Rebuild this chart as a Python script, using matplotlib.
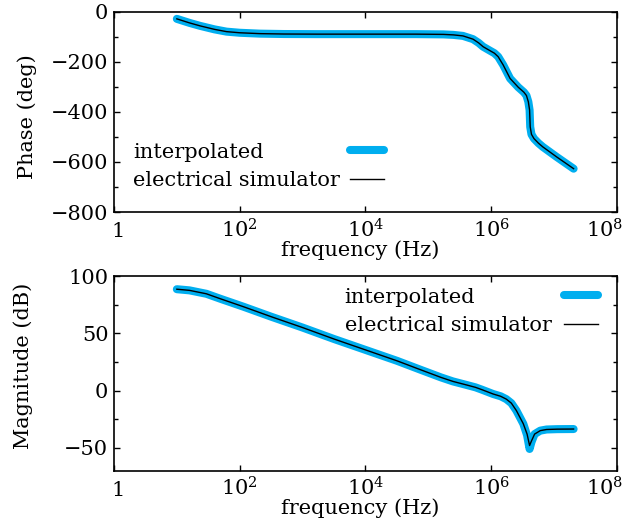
import matplotlib
matplotlib.use("Agg")
import matplotlib.pyplot as plt
import matplotlib.transforms as mtransforms
import numpy as np
from matplotlib.ticker import FixedLocator, FuncFormatter, AutoMinorLocator, NullLocator

# values (frequency as log10 of Hz)
phase_freq_exp = [1.00, 1.10, 1.20, 1.37, 1.60, 1.79, 2.00, 2.32, 2.70, 3.22, 4.00,
                  4.80, 5.24, 5.40, 5.55, 5.71, 5.80, 5.87, 5.98, 6.05, 6.11, 6.19,
                  6.30, 6.43, 6.52, 6.56, 6.59, 6.61, 6.62, 6.64, 6.68, 6.75, 6.82,
                  7.04, 7.31]
phase_interp = [-29, -37, -45, -57, -71, -80, -84.5, -88, -89.5, -90, -90,
                -90, -91, -93, -97, -110, -125, -140, -156, -166, -180, -213,
                -267, -302, -322, -335, -360, -393, -460, -490, -507, -525, -540,
                -580, -627]
phase_sim = list(phase_interp)

mag_freq_exp = [1.00, 1.20, 1.47, 1.70, 2.06, 2.50, 3.00, 3.50, 4.00, 4.50, 4.86,
                5.20, 5.39, 5.60, 5.75, 5.85, 6.03, 6.15, 6.24, 6.32, 6.40, 6.51,
                6.57, 6.61, 6.64, 6.69, 6.78, 6.88, 7.05, 7.31]
mag_sim = [88.5, 87.5, 84.5, 80, 73.2, 64.5, 55, 45, 35.5, 26, 18.5,
           11.5, 8, 5, 2.8, 0.8, -3, -5, -7.5, -11, -17.5, -29,
           -38, -48, -44, -38, -35, -34, -33.7, -33.6]
mag_interp = [88.5, 87.5, 84.5, 80, 73.2, 64.5, 55, 45, 35.5, 26, 18.5,
              11.5, 8, 5, 2.8, 0.8, -3, -5, -7.5, -11, -17.5, -29,
              -39, -51, -45, -38, -35, -34, -33.7, -33.6]

xticks = [1, 1e2, 1e4, 1e6, 1e8]

BLUE = "#00AEEF"

plt.rcParams["font.family"] = "DejaVu Serif"
plt.rcParams["mathtext.fontset"] = "dejavuserif"
plt.rcParams["font.size"] = 15


def fmt_freq(v, pos):
    e = int(round(np.log10(v)))
    if e == 0:
        return "1"
    return r"10$^{%d}$" % e


def style_axes(ax, fig):
    ax.set_xscale("log")
    ax.set_xlim(1, 1e8)
    ax.xaxis.set_major_locator(FixedLocator(xticks))
    ax.xaxis.set_major_formatter(FuncFormatter(fmt_freq))
    ax.xaxis.set_minor_locator(NullLocator())
    ax.yaxis.set_minor_locator(AutoMinorLocator(2))
    ax.tick_params(which="both", direction="in", top=True, right=True, width=1.0)
    ax.tick_params(which="major", length=4.5)
    ax.tick_params(which="minor", length=3)
    ax.tick_params(axis="x", pad=18)
    ax.tick_params(axis="y", pad=4)
    for sp in ax.spines.values():
        sp.set_linewidth(1.2)
    labs = ax.get_xticklabels()
    for lab in labs:
        lab.set_va("baseline")
    # nudge the end labels inwards a little, as in the reference
    labs[0].set_transform(labs[0].get_transform() +
                          mtransforms.ScaledTranslation(3 / 72, 0, fig.dpi_scale_trans))
    labs[-1].set_transform(labs[-1].get_transform() +
                           mtransforms.ScaledTranslation(-9 / 72, 0, fig.dpi_scale_trans))


def left_align_legend(leg, fig, pad):
    # gnuplot style key: texts left aligned, samples in a column on the right
    fig.canvas.draw()
    r = fig.canvas.get_renderer()
    widths = [t.get_window_extent(r).width for t in leg.get_texts()]
    wmax = max(widths)
    col = leg._legend_handle_box.get_children()[0]
    for item, w in zip(col.get_children(), widths):
        item.sep = pad * 15 + (wmax - w) * 72.0 / fig.dpi


fig = plt.figure(figsize=(6.29, 5.27), dpi=100)
ax1 = fig.add_axes([0.1812, 0.5977, 0.7997, 0.3803])
ax2 = fig.add_axes([0.1812, 0.1068, 0.7997, 0.3694])

f_ph = 10.0 ** np.array(phase_freq_exp)
f_mag = 10.0 ** np.array(mag_freq_exp)

ax1.plot(f_ph, phase_interp, color=BLUE, lw=5.8, solid_capstyle="round",
         solid_joinstyle="round", label="interpolated")
ax1.plot(f_ph, phase_sim, color="black", lw=1.0, label="electrical simulator")
style_axes(ax1, fig)
ax1.set_ylim(-800, 0)
ax1.set_yticks([0, -200, -400, -600, -800])
ax1.set_xlabel("frequency (Hz)")
ax1.xaxis.set_label_coords(0.489, -0.14)
ax1.xaxis.label.set_va("top")
ax1.set_ylabel("Phase (deg)")
ax1.yaxis.set_label_coords(-0.153, 0.474)

ax2.plot(f_mag, mag_interp, color=BLUE, lw=5.8, solid_capstyle="round",
         solid_joinstyle="round", label="interpolated")
ax2.plot(f_mag, mag_sim, color="black", lw=1.0, label="electrical simulator")
style_axes(ax2, fig)
ax2.set_ylim(-70, 100)
ax2.set_yticks([100, 50, 0, -50])
ax2.set_xlabel("frequency (Hz)")
ax2.xaxis.set_label_coords(0.489, -0.144)
ax2.xaxis.label.set_va("top")
ax2.set_ylabel("Magnitude (dB)")
ax2.yaxis.set_label_coords(-0.161, 0.538)

leg1 = ax1.legend(loc="lower left", bbox_to_anchor=(0.038, 0.11), frameon=False,
                  markerfirst=False, borderpad=0, borderaxespad=0,
                  handlelength=1.63, handletextpad=0.5, labelspacing=0.45)
leg2 = ax2.legend(loc="upper right", bbox_to_anchor=(0.962, 0.94), frameon=False,
                  markerfirst=False, borderpad=0, borderaxespad=0,
                  handlelength=1.63, handletextpad=0.6, labelspacing=0.45)
left_align_legend(leg1, fig, 0.5)
left_align_legend(leg2, fig, 0.6)

fig.savefig("out.png", dpi=100)
